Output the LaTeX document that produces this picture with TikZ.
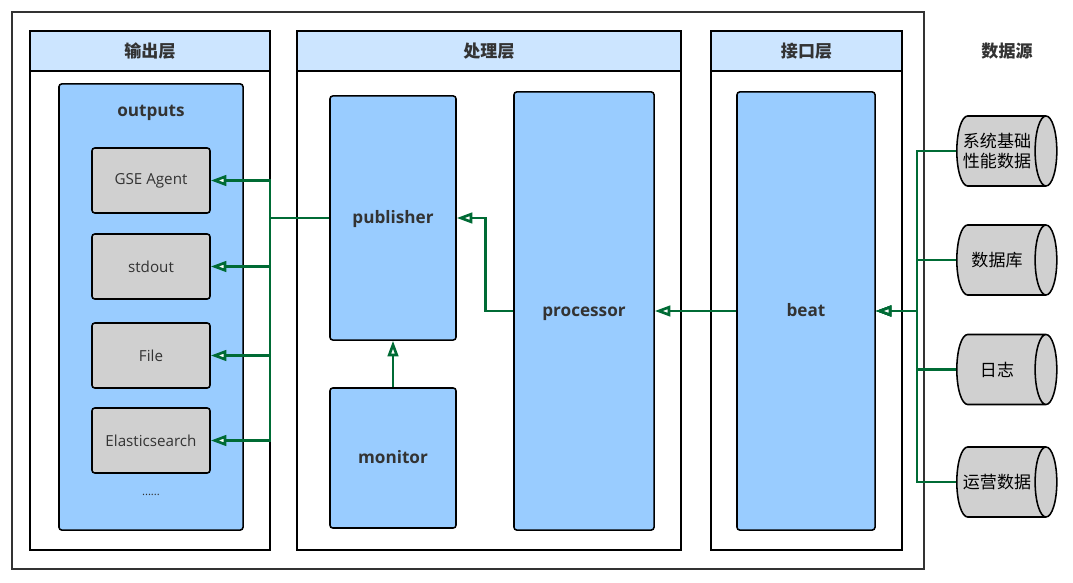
\documentclass[tikz,border=0pt]{standalone}
\usepackage{fontspec}
\setmainfont{Open Sans}
\newfontfamily\cjk{Noto Sans CJK SC}
\usetikzlibrary{arrows.meta}
\usetikzlibrary{shapes.geometric}
\definecolor{boxblue}{HTML}{99CCFF}
\definecolor{headblue}{HTML}{CCE5FF}
\definecolor{boxgrey}{HTML}{D0D0D0}
\definecolor{flowgreen}{HTML}{006B35}
\definecolor{textgrey}{HTML}{333333}
\tikzset{
	framestyle/.style={rectangle,draw=textgrey,line width=1.1pt,minimum width=22.8cm,minimum height=13.925cm},
	layerstyle/.style={rectangle,draw=black,line width=1.1pt,fill=white,minimum width=#1,minimum height=12.975cm},
	headerstyle/.style={rectangle,draw=black,line width=1.1pt,fill=headblue,minimum width=#1,minimum height=1cm,text=textgrey,font=\cjk\bfseries\fontsize{12.1}{14}\selectfont},
	modulestyle/.style={rectangle,rounded corners=2pt,draw=black,line width=1.1pt,fill=boxblue,text=textgrey,text height=1.42ex,text depth=0pt,font=\bfseries\fontsize{12.2}{14}\selectfont},
	pluginstyle/.style={rectangle,rounded corners=2pt,draw=black,line width=1.1pt,fill=boxgrey,minimum width=2.95cm,minimum height=1.625cm,text=textgrey,font=\fontsize{10.8}{12}\selectfont},
	sourcestyle/.style={cylinder,draw=black,line width=1.1pt,fill=boxgrey,minimum height=2.5cm,aspect=0.31,inner sep=0pt,execute at begin node={\rule{0pt}{1.75cm}}},
	sourcetext/.style={align=center,inner sep=0pt,font=\cjk\fontsize{12.1}{14.2}\selectfont},
	flowstyle/.style={draw=flowgreen,line width=1.9pt,-{Triangle[length=11pt,width=7.5pt,fill=white]}}
}
\begin{document}
\begin{tikzpicture}[x=0.025cm,y=-0.025cm]
	\useasboundingbox (0,0) rectangle (1073,583);
	\node[framestyle] (frame) at (468,290.5) {};
	% layers
	\node[layerstyle=6cm] (outlayer) at (150,290.5) {};
	\node[layerstyle=9.6cm] (proclayer) at (489,290.5) {};
	\node[layerstyle=4.775cm] (inlayer) at (806.5,290.5) {};
	\node[headerstyle=6cm] (outhead) at (150,51) {输出层};
	\node[headerstyle=9.6cm] (prochead) at (489,51) {处理层};
	\node[headerstyle=4.775cm] (inhead) at (806.5,51) {接口层};
	\node[text=textgrey,font=\cjk\bfseries\fontsize{12.1}{14}\selectfont] (srchead) at (1007,51) {数据源};
	% output layer
	\node[modulestyle,minimum width=4.6cm,minimum height=11.15cm] (outputs) at (151,307) {};
	\node[text=textgrey,font=\bfseries\fontsize{12.2}{14}\selectfont] (outtitle) at (151,113) {outputs};
	\node[pluginstyle] (gse) at (151,180.5) {GSE Agent};
	\node[pluginstyle] (stdout) at (151,266.5) {stdout};
	\node[pluginstyle] (file) at (151,355.5) {File};
	\node[pluginstyle] (es) at (151,440.5) {Elasticsearch};
	\node[text=textgrey,font=\fontsize{8}{9}\selectfont] (more) at (151,495) {......};
	% processing layer
	\node[modulestyle,minimum width=3.15cm,minimum height=6.1cm] (publisher) at (393,218) {publisher};
	\node[modulestyle,minimum width=3.15cm,minimum height=3.5cm] (monitor) at (393,458) {monitor};
	\node[modulestyle,minimum width=3.5cm,minimum height=10.95cm] (processor) at (584,311) {processor};
	% interface layer
	\node[modulestyle,minimum width=3.45cm,minimum height=10.95cm] (beat) at (806,311) {beat};
	% data sources
	\node[sourcestyle] (sys) at (1001,151) {};
	\node[sourcestyle] (db) at (1001,260) {};
	\node[sourcestyle] (log) at (1001,369.5) {};
	\node[sourcestyle] (ops) at (1001,482) {};
	\node[sourcetext] (systext) at (997,151) {系统基础\\性能数据};
	\node[sourcetext] (dbtext) at (997,260) {数据库};
	\node[sourcetext] (logtext) at (997,369.5) {日志};
	\node[sourcetext] (opstext) at (997,482) {运营数据};
	% flows
	\coordinate (outbus) at (270,218);
	\coordinate (inbus) at (917,311);
	\foreach \n in {gse,stdout,file,es}
		\draw[flowstyle] (publisher.west) -- (outbus) |- (\n.east);
	\draw[flowstyle] (monitor.north) -- (publisher.south);
	\draw[flowstyle] (processor.west) -- ++(-28,0) |- (publisher.east);
	\draw[flowstyle] (beat.west) -- (processor.east);
	\foreach \n in {sys,db,log,ops}
		\draw[flowstyle] (\n.west) -| (inbus) -- (beat.east);
\end{tikzpicture}
\end{document}
